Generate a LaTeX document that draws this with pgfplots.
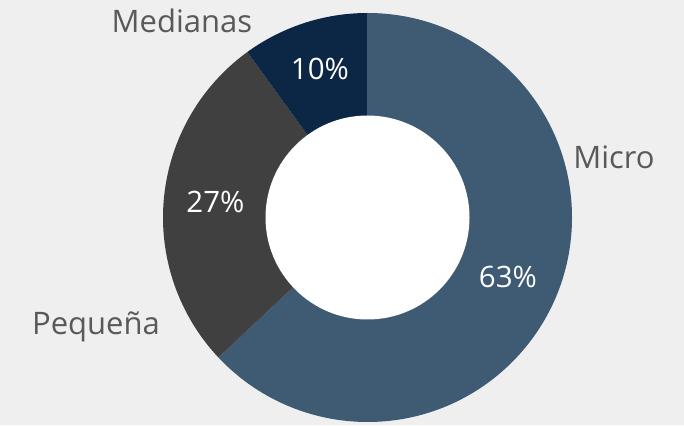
\documentclass[border=0pt]{standalone}
\usepackage{fontspec}
\setmainfont{Open Sans}
\usepackage{pgfplots}
\pgfplotsset{compat=1.18}
\usepackage{pgfplotstable}

\definecolor{bg}{HTML}{EFEFEF}
\definecolor{slice0}{HTML}{3F5A73}
\definecolor{slice1}{HTML}{404040}
\definecolor{slice2}{HTML}{0C2646}
\definecolor{lbl}{HTML}{595959}

% share of firms by size (%)
\pgfplotstableread{
name     value
Micro    63
Pequena  27
Medianas 10
}\slices

\begin{document}
\begin{tikzpicture}
\begin{axis}[
    width=684pt, height=425pt,
    scale only axis,
    hide axis,
    xmin=0, xmax=684,
    ymin=0, ymax=425,
    clip=false,
]
  \fill[bg] (rel axis cs:0,0) rectangle (rel axis cs:1,1);

  \def\cx{367.5}\def\cy{207.5}
  \def\start{90}
  \pgfplotsforeachungrouped \i in {0,1,2}{
    \pgfplotstablegetelem{\i}{value}\of\slices
    \pgfmathsetmacro\stop{\start-3.6*\pgfplotsretval}
    \edef\cmd{\noexpand\fill[slice\i] (axis cs:\cx,\cy) -- ++(\start:204.5pt)
      arc[start angle=\start, end angle=\stop, radius=204.5pt] -- cycle;}
    \cmd
    \global\let\start\stop
  }
  \fill[white] (axis cs:\cx,\cy) circle[radius=102pt];

  % percentages
  \tikzset{pct/.style={anchor=base, text=white, font=\fontsize{29.5}{32}\selectfont}}
  \node[pct] at (axis cs:508,137) {63\%};
  \node[pct] at (axis cs:215.5,212) {27\%};
  \node[pct] at (axis cs:320,345) {10\%};

  % category labels
  \tikzset{cat/.style={anchor=base, text=lbl, font=\fontsize{31}{34}\selectfont}}
  \node[cat] at (axis cs:614,256) {Micro};
  \node[cat] at (axis cs:96,90) {Pequeña};
  \node[cat] at (axis cs:182,392) {Medianas};
\end{axis}
\end{tikzpicture}
\end{document}
